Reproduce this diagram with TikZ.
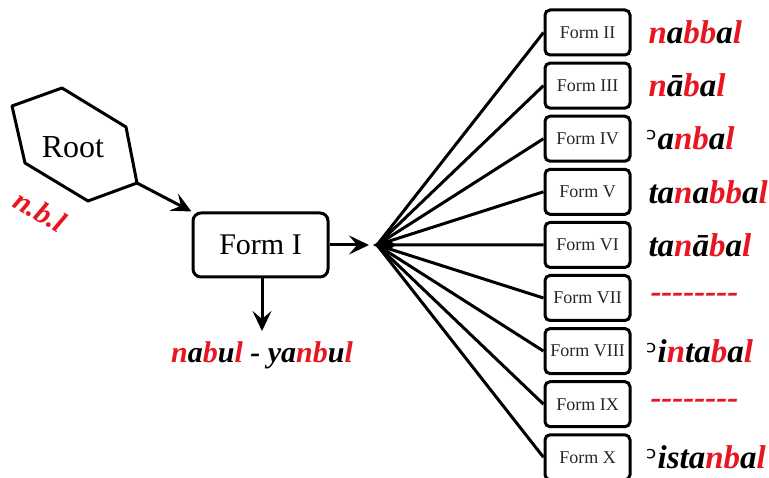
\documentclass[tikz,border=0pt]{standalone}
\usepackage{fontspec}
\setmainfont{Liberation Serif}
\newfontfamily\dvfont{DejaVu Sans}
\usetikzlibrary{arrows.meta}
\definecolor{myred}{RGB}{232,22,32}
\newcommand\rd[1]{\textcolor{myred}{#1}}
\newcommand\hamza{{\dvfont\mdseries\upshape\fontsize{30}{30}\selectfont ᵓ}}
\newcommand\dashrow{{-}{-}{-}{-}{-}{-}{-}{-}}
\begin{document}
\begin{tikzpicture}[x=1pt,y=-1pt,
  line width=3pt,
  arr/.style={-{Stealth[length=20pt,width=19pt,inset=8pt]}},
  formbox/.style={draw, rounded corners=5pt, minimum width=85pt, minimum height=45pt, inner sep=0pt,
    font=\fontsize{18}{18}\selectfont, text=black!85},
  lab/.style={anchor=west, font=\fontsize{33}{33}\selectfont\bfseries\itshape, inner sep=0pt},
]
\useasboundingbox (0,0) rectangle (769,478);
% Root hexagon
\draw[line join=round] (12,106) -- (62,88) -- (126,127) -- (137,183) coordinate (rootout) -- (88,201) -- (25,163) -- cycle;
\node (root) at (73,147) {\fontsize{32}{32}\selectfont Root};
\node[rotate=-30, text=myred, inner sep=0pt, font=\fontsize{30}{30}\selectfont\bfseries\itshape] (nbl) at (40,211) {n.b.l};
% Form I
\node[draw, rounded corners=8pt, minimum width=135pt, minimum height=64pt, font=\fontsize{30}{30}\selectfont] (f1) at (260.5,245) {Form I};
\draw[arr] (rootout) -- (f1.north west);
\coordinate (hubin) at (369,245);
\coordinate (hub) at (377,245);
\draw[arr] (f1.east) -- (hubin);
\coordinate (down) at (262,331);
\draw[arr] (f1.south -| down) -- (down);
\node[inner sep=0pt, font=\fontsize{30}{30}\selectfont\bfseries\itshape] (f1lab) at (262,355)
  {\rd{n}a\rd{b}u\rd{l} - ya\rd{nb}u\rd{l}};
% Derived forms
\foreach \i/\r [count=\k from 0] in {2/II,3/III,4/IV,5/V,6/VI,7/VII,8/VIII,9/IX,10/X}{
  \node[formbox] (f\i) at (587.5,{32.5+\k*53.1}) {Form \r};
  \draw (hub) -- (f\i.west);
}
\fill (373,245) -- (386,238) -- (396,245) -- (386,252) -- cycle;
\node[lab] (l2) at (647,32.5) {\rd{n}a\rd{bb}a\rd{l}};
\node[lab] (l3) at (647,85.6) {\rd{n}ā\rd{b}a\rd{l}};
\node[lab] (l4) at (645,138.7) {\hamza a\rd{nb}a\rd{l}};
\node[lab] (l5) at (647,191.8) {ta\rd{n}a\rd{bb}a\rd{l}};
\node[lab] (l6) at (647,244.9) {ta\rd{n}ā\rd{b}a\rd{l}};
\node[lab, text=myred] (l7) at (649,298) {\dashrow};
\node[lab] (l8) at (645,351.1) {\hamza i\rd{n}ta\rd{b}a\rd{l}};
\node[lab, text=myred] (l9) at (649,404.2) {\dashrow};
\node[lab] (l10) at (645,457.3) {\hamza ista\rd{nb}a\rd{l}};
\end{tikzpicture}
\end{document}
